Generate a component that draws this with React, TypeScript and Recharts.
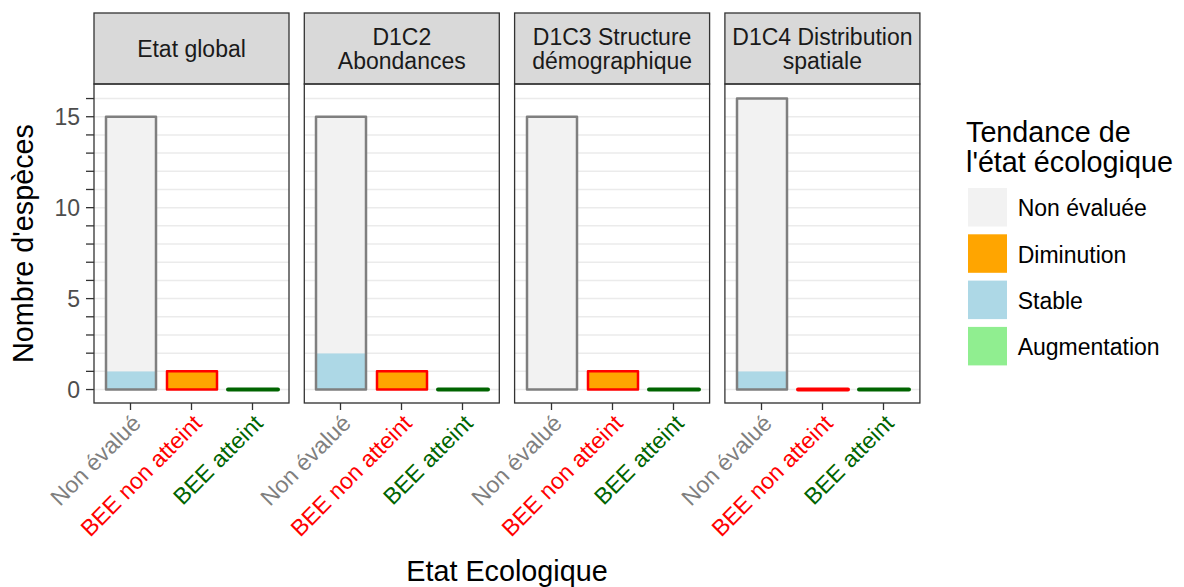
import React from "react";
import { BarChart, Bar, XAxis, YAxis, CartesianGrid } from "recharts";

// ---- data ----
const categories = ["Non évalué", "BEE non atteint", "BEE atteint"];
const categoryColors = ["#7f7f7f", "#ff0000", "#006400"];
const panelTitles = [
  ["Etat global"],
  ["D1C2", "Abondances"],
  ["D1C3 Structure", "démographique"],
  ["D1C4 Distribution", "spatiale"],
];
// per panel, per category
const nonEvaluee = [
  [14, 0, 0],
  [13, 0, 0],
  [15, 0, 0],
  [15, 0, 0],
];
const diminution = [
  [0, 1, 0],
  [0, 1, 0],
  [0, 1, 0],
  [0, 0, 0],
];
const stable = [
  [1, 0, 0],
  [2, 0, 0],
  [0, 0, 0],
  [1, 0, 0],
];
const augmentation = [
  [0, 0, 0],
  [0, 0, 0],
  [0, 0, 0],
  [0, 0, 0],
];
const yTicks = [0, 1, 2, 3, 4, 5, 6, 7, 8, 9, 10, 11, 12, 13, 14, 15, 16];
const yLabelled = [0, 5, 10, 15];
const legendLabels = ["Non évaluée", "Diminution", "Stable", "Augmentation"];
const legendColors = ["#f2f2f2", "#ffa500", "#add8e6", "#90ee90"];
const legendTitle = ["Tendance de", "l'état écologique"];
const yTitle = "Nombre d'espèces";
const xTitle = "Etat Ecologique";

// ---- layout ----
const W = 1184;
const H = 587;
const PANEL_TOP = 84;
const PANEL_BOTTOM = 403;
const STRIP_TOP = 13;
const PANEL_W = 195;
const STEP = 210.3;
const FIRST_LEFT = 94;
const AXIS_W = 94;
const FONT = "'Liberation Sans', Arial, Helvetica, sans-serif";
const BORDER = "#333333";

const panelLeft = (i: number) => FIRST_LEFT + i * STEP;

const XTick = (props: any) => {
  const { x, y, payload } = props;
  const idx = categories.indexOf(payload.value);
  return (
    <text
      x={x}
      y={y + 1}
      transform={`rotate(-45 ${x} ${y + 1})`}
      textAnchor="end"
      dy="0.72em"
      fontSize={23}
      fontFamily={FONT}
      fill={categoryColors[idx]}
    >
      {payload.value}
    </text>
  );
};

const YTick = (props: any) => {
  const { x, y, payload } = props;
  if (!yLabelled.includes(payload.value)) return <g />;
  return (
    <text x={x} y={y} dy="0.36em" textAnchor="end" fontSize={23} fontFamily={FONT} fill="#4d4d4d">
      {payload.value}
    </text>
  );
};

const OutlineShape = (props: any) => {
  const { x, y, width, height, payload } = props;
  const idx = categories.indexOf(payload.cat);
  const h = height || 0;
  const d = `M${x},${y} h${width} v${h} h${-width} Z`;
  return (
    <path
      d={d}
      fill="none"
      stroke={categoryColors[idx]}
      strokeWidth={Math.abs(h) < 0.5 ? 4 : 2.5}
      strokeLinejoin="round"
      strokeLinecap="round"
    />
  );
};

function Panel({ i }: { i: number }) {
  const data = categories.map((c, k) => ({
    cat: c,
    aug: augmentation[i][k],
    stable: stable[i][k],
    dim: diminution[i][k],
    ne: nonEvaluee[i][k],
    total: augmentation[i][k] + stable[i][k] + diminution[i][k] + nonEvaluee[i][k],
  }));
  return (
    <div style={{ position: "absolute", left: panelLeft(i) - AXIS_W, top: 0 }}>
      <BarChart
        width={AXIS_W + PANEL_W + 10}
        height={H}
        data={data}
        margin={{ top: PANEL_TOP, right: 10, bottom: 0, left: i === 0 ? 0 : AXIS_W }}
      >
        <CartesianGrid vertical={false} stroke="#ebebeb" strokeWidth={1.5} />
        <XAxis
          dataKey="cat"
          type="category"
          height={H - PANEL_BOTTOM}
          padding={{ left: 6, right: 6 }}
          axisLine={false}
          tickLine={{ stroke: BORDER, strokeWidth: 1.3 }}
          tickSize={7}
          tickMargin={2}
          interval={0}
          tick={XTick}
        />
        <XAxis xAxisId="o" dataKey="cat" type="category" hide padding={{ left: 6, right: 6 }} />
        <YAxis
          type="number"
          domain={[-0.74, 16.8]}
          ticks={yTicks}
          interval={0}
          hide={i !== 0}
          width={AXIS_W}
          axisLine={false}
          tickLine={{ stroke: BORDER, strokeWidth: 1.3 }}
          tickSize={8}
          tickMargin={6}
          tick={YTick}
        />
        <Bar dataKey="aug" stackId="a" fill={legendColors[3]} barSize={50} isAnimationActive={false} />
        <Bar dataKey="stable" stackId="a" fill={legendColors[2]} barSize={50} isAnimationActive={false} />
        <Bar dataKey="dim" stackId="a" fill={legendColors[1]} barSize={50} isAnimationActive={false} />
        <Bar dataKey="ne" stackId="a" fill={legendColors[0]} barSize={50} isAnimationActive={false} />
        <Bar
          dataKey="total"
          xAxisId="o"
          barSize={50}
          fill="none"
          shape={OutlineShape}
          isAnimationActive={false}
        />
      </BarChart>
    </div>
  );
}

export default function App() {
  const stripCenter = (STRIP_TOP + PANEL_TOP) / 2;
  const lh = 24;
  return (
    <div
      style={{
        position: "absolute",
        left: 0,
        top: 0,
        width: W,
        height: H,
        background: "#ffffff",
        fontFamily: FONT,
      }}
    >
      {panelTitles.map((_, i) => (
        <Panel key={i} i={i} />
      ))}
      <svg
        width={W}
        height={H}
        style={{ position: "absolute", left: 0, top: 0, pointerEvents: "none" }}
      >
        {panelTitles.map((lines, i) => {
          const x0 = panelLeft(i);
          return (
            <g key={i}>
              <rect
                x={x0}
                y={STRIP_TOP}
                width={PANEL_W}
                height={PANEL_TOP - STRIP_TOP}
                fill="#d9d9d9"
                stroke={BORDER}
                strokeWidth={1.3}
              />
              {lines.map((t, k) => (
                <text
                  key={k}
                  x={x0 + PANEL_W / 2}
                  y={stripCenter + (k - (lines.length - 1) / 2) * lh + 8.2}
                  textAnchor="middle"
                  fontSize={23}
                  fontFamily={FONT}
                  fill="#1a1a1a"
                >
                  {t}
                </text>
              ))}
              <rect
                x={x0}
                y={PANEL_TOP}
                width={PANEL_W}
                height={PANEL_BOTTOM - PANEL_TOP}
                fill="none"
                stroke={BORDER}
                strokeWidth={1.3}
              />
            </g>
          );
        })}
        <text
          x={33}
          y={(PANEL_TOP + PANEL_BOTTOM) / 2}
          transform={`rotate(-90 33 ${(PANEL_TOP + PANEL_BOTTOM) / 2})`}
          textAnchor="middle"
          fontSize={28.75}
          fontFamily={FONT}
          fill="#000"
        >
          {yTitle}
        </text>
        <text
          x={(panelLeft(0) + panelLeft(3) + PANEL_W) / 2}
          y={581}
          textAnchor="middle"
          fontSize={28.75}
          fontFamily={FONT}
          fill="#000"
        >
          {xTitle}
        </text>
        {legendTitle.map((t, k) => (
          <text key={k} x={966} y={141.7 + k * 30} fontSize={28.75} fontFamily={FONT} fill="#000">
            {t}
          </text>
        ))}
        {legendLabels.map((t, k) => {
          const top = 188 + k * 46.3;
          return (
            <g key={k}>
              <rect x={968} y={top} width={39} height={38.5} fill={legendColors[k]} />
              <text x={1017.7} y={top + 19.25 + 9} fontSize={23} fontFamily={FONT} fill="#000">
                {t}
              </text>
            </g>
          );
        })}
      </svg>
    </div>
  );
}
